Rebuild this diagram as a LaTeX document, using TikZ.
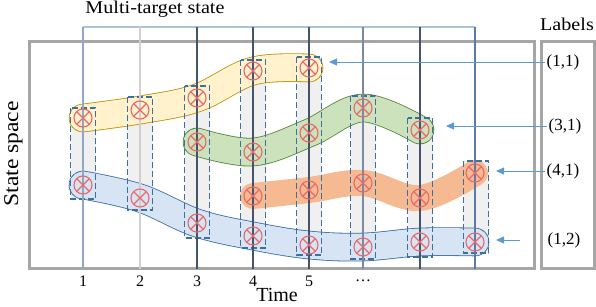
\documentclass[tikz,border=0pt]{standalone}
\usepackage{fontspec}
\setmainfont{Liberation Serif}
\newfontfamily\widefont{Liberation Serif}[FakeStretch=1.12]
\usepackage{tikz}
\usetikzlibrary{arrows.meta}
\definecolor{framegray}{RGB}{166, 166, 166}
\definecolor{slotgray}{RGB}{240, 240, 240}
\definecolor{slotblue}{RGB}{61, 111, 163}
\definecolor{targetred}{RGB}{232, 105, 107}
\definecolor{arrowblue}{RGB}{91, 155, 213}
\definecolor{topblue}{RGB}{173, 194, 217}
\definecolor{lineA}{RGB}{143, 168, 196}
\definecolor{lineB}{RGB}{208, 208, 208}
\definecolor{lineC}{RGB}{68, 84, 106}
\definecolor{lineD}{RGB}{122, 138, 160}
\definecolor{lineE}{RGB}{90, 122, 168}
\definecolor{yellowfill}{RGB}{255, 242, 204}
\definecolor{yellowline}{RGB}{191, 144, 0}
\definecolor{greenfill}{RGB}{204, 226, 188}
\definecolor{greenline}{RGB}{84, 130, 53}
\definecolor{bluefill}{RGB}{214, 228, 244}
\definecolor{blueline}{RGB}{58, 106, 168}
\definecolor{orangefill}{RGB}{246, 186, 146}

\begin{document}
\begin{tikzpicture}[x=1pt, y=-1pt,
        % Set global font size for consistency
        font=\fontsize{16}{19}\selectfont,
        % Define reusable styles for different elements of the plot
        frame/.style={draw=framegray, line width=3pt},
        timeline/.style={line width=1.1pt},
        slot/.style={fill=slotgray},
        slotedge/.style={draw=slotblue, line width=1.2pt, dash pattern=on 6pt off 3pt},
        target/.style={circle, draw=targetred, line width=1.1pt, minimum size=18pt, inner sep=0pt,
            path picture={\draw[targetred, line width=1.1pt]
                (path picture bounding box.north west) -- (path picture bounding box.south east)
                (path picture bounding box.north east) -- (path picture bounding box.south west);}},
        track/.style 2 args={draw=#1, double=#2, line width=0.8pt, double distance=27pt,
            line cap=round, line join=round},
        pointer/.style={-{Triangle[length=8pt, width=7pt]}, draw=arrowblue, line width=0.9pt},
        lab/.style={inner sep=2pt, font=\fontsize{17}{20}\selectfont}
    ]
    \useasboundingbox (0,0) rectangle (596,306);

    \draw[frame] (29,41) rectangle (534,268);
    \draw[frame] (541,41) rectangle (594,268);

    % Target positions per track
    \coordinate (a1) at (83,118);  \coordinate (a2) at (140,110); \coordinate (a3) at (197,98);
    \coordinate (a4) at (253,71);  \coordinate (a5) at (309,68);
    \coordinate (g3) at (197,142); \coordinate (g4) at (253,152); \coordinate (g5) at (309,133);
    \coordinate (g6) at (363,108); \coordinate (g7) at (420,130);
    \coordinate (o4) at (253,196); \coordinate (o5) at (309,190); \coordinate (o6) at (363,183);
    \coordinate (o7) at (420,198); \coordinate (o8) at (475,173);
    \coordinate (b1) at (83,185);  \coordinate (b2) at (140,198); \coordinate (b3) at (197,223);
    \coordinate (b4) at (253,236); \coordinate (b5) at (309,245); \coordinate (b6) at (363,247);
    \coordinate (b7) at (420,242); \coordinate (b8) at (475,242);

    % Time slots
    \foreach \x/\t/\b in {83/108/199, 140/97/210, 197/86/238, 253/60/248,
                          309/57/255, 363/96/259, 420/118/257, 476/161/253} {
        \fill[slot] ({\x-12.5},\t) rectangle ({\x+12.5},\b);
    }

    % Tracks
    \draw[track={yellowline}{yellowfill}] plot[smooth, tension=0.6] coordinates {(a1) (a2) (a3) (a4) (a5)};
    \draw[track={greenline}{greenfill}] plot[smooth, tension=0.6] coordinates {(g3) (g4) (g5) (g6) (g7)};
    \draw[track={blueline}{bluefill}] plot[smooth, tension=0.6] coordinates {(b1) (b2) (b3) (b4) (b5) (b6) (b7) (b8)};
    \draw[orangefill, line width=26pt, line cap=round, line join=round]
        plot[smooth, tension=0.6] coordinates {(o4) (o5) (o6) (o7) (o8)};

    \foreach \x/\t/\b in {83/108/199, 140/97/210, 197/86/238, 253/60/248,
                          309/57/255, 363/96/259, 420/118/257, 476/161/253} {
        \draw[slotedge] ({\x-12.5},\t) rectangle ({\x+12.5},\b);
    }

    % Time axis lines
    \draw[timeline, topblue] (83,27) -- (475,27);
    \foreach \x/\c in {83/lineA, 140/lineB, 197/lineC, 253/lineC,
                       309/lineC, 363/lineD, 420/lineC, 475/lineE} {
        \draw[timeline, draw=\c] (\x,27) -- (\x,269);
    }

    \foreach \p in {a1, a2, a3, a4, a5, g3, g4, g5, g6, g7, o4, o5, o6, o7, o8,
                    b1, b2, b3, b4, b5, b6, b7, b8} {
        \node[target] (m-\p) at (\p) {};
    }

    % Axis ticks and labels
    \foreach \x/\n [count=\i] in {83/1, 140/2, 197/3, 253/4, 309/5, 363/\dots} {
        \node (tick\i) at (\x,281) {\n};
    }
    \node[anchor=base, inner sep=1pt, font=\fontsize{20}{24}\selectfont] (time) at (277,301) {Time};
    \node[anchor=base, rotate=90, font=\widefont\fontsize{21}{24}\selectfont] (space) at (18,154) {State space};
    \node[anchor=base, font=\widefont\fontsize{18}{21}\selectfont] (title) at (155,13.5) {Multi-target state};
    \node[anchor=base, font=\widefont\fontsize{18}{21}\selectfont] (labels) at (567,30.5) {Labels};

    % Track labels
    \node[lab] (l11) at (563,62) {(1,1)};
    \node[lab] (l31) at (565,126) {(3,1)};
    \node[lab] (l41) at (563,171) {(4,1)};
    \node[lab] (l12) at (564,240) {(1,2)};

    \coordinate (p11) at (329,62);
    \coordinate (p31) at (446,126);
    \coordinate (p41) at (496,171);
    \coordinate (p12) at (496,240);

    \draw[pointer] (l11.west) -- (p11);
    \draw[pointer] (l31.west) -- (p31);
    \draw[pointer] (l41.west) -- (p41);
    \draw[pointer, shorten <=26pt] (l12.west) -- (p12);

\end{tikzpicture}
\end{document}
